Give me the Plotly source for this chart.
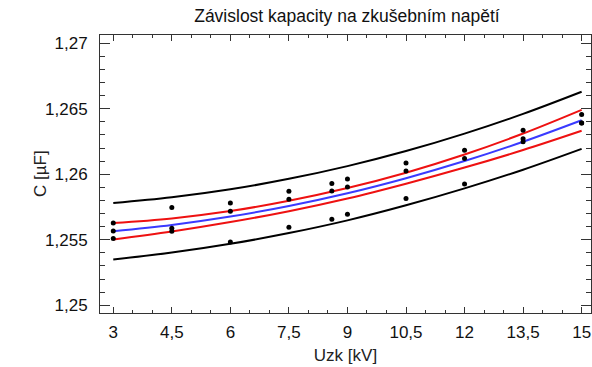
import plotly.graph_objects as go

# measured points
pts_x = [3, 3, 3, 4.5, 4.5, 4.5, 6, 6, 6, 7.5, 7.5, 7.5, 8.6, 8.6, 8.6,
         9, 9, 9, 10.5, 10.5, 10.5, 12, 12, 12, 13.5, 13.5, 13.5, 15, 15, 15]
pts_y = [1.25628, 1.25567, 1.25509, 1.25746, 1.25588, 1.25565,
         1.25781, 1.25718, 1.25483, 1.25870, 1.25809, 1.25595,
         1.25929, 1.25873, 1.25656, 1.25964, 1.25903, 1.25695,
         1.26086, 1.26025, 1.25815, 1.26183, 1.26120, 1.25926,
         1.26336, 1.26272, 1.26248, 1.26456, 1.26392, 1.26392]

# curves
curve_x = [3, 4.5, 6, 7.5, 9, 10.5, 12, 13.5, 15]
fit_y = [1.25565, 1.25613, 1.25677, 1.25758, 1.25855, 1.25970, 1.26101, 1.26248, 1.26412]
conf_up = [1.25628, 1.25663, 1.25719, 1.25798, 1.25895, 1.26012, 1.26151, 1.26311, 1.26492]
conf_lo = [1.25502, 1.25563, 1.25635, 1.25718, 1.25815, 1.25928, 1.26051, 1.26185, 1.26332]
pred_up = [1.25780, 1.25824, 1.25885, 1.25965, 1.26062, 1.26177, 1.26310, 1.26461, 1.26630]
pred_lo = [1.25350, 1.25402, 1.25469, 1.25551, 1.25648, 1.25763, 1.25892, 1.26035, 1.26194]

x_ticks = [3, 4.5, 6, 7.5, 9, 10.5, 12, 13.5, 15]
x_labels = ["3", "4,5", "6", "7,5", "9", "10,5", "12", "13,5", "15"]
y_ticks = [1.25, 1.255, 1.26, 1.265, 1.27]
y_labels = ["1,25", "1,255", "1,26", "1,265", "1,27"]

fig = go.Figure()
for yy, col in [(pred_up, "black"), (pred_lo, "black"),
                (conf_up, "#ee1111"), (conf_lo, "#ee1111"),
                (fit_y, "#3a3aff")]:
    fig.add_trace(go.Scatter(x=curve_x, y=yy, mode="lines",
                             line=dict(color=col, width=2, shape="spline"),
                             showlegend=False, hoverinfo="skip"))
fig.add_trace(go.Scatter(x=pts_x, y=pts_y, mode="markers",
                         marker=dict(color="black", size=5),
                         showlegend=False))

font = "Liberation Sans, Arial, sans-serif"
fig.update_layout(
    width=592, height=367,
    margin=dict(l=100, r=1, t=34.5, b=54.3, autoexpand=False),
    paper_bgcolor="white", plot_bgcolor="white",
    font=dict(family=font, size=17, color="#111111"),
    title=dict(text="Závislost kapacity na zkušebním napětí",
               x=0.586, xanchor="center", y=0.957, yanchor="middle",
               font=dict(size=17.5, color="#111111")),
    xaxis=dict(range=[2.66, 15.24], tickvals=x_ticks, ticktext=x_labels,
               ticks="inside", ticklen=6, tickcolor="#333333",
               minor=dict(ticks="inside", ticklen=3, dtick=0.5, tick0=3,
                          tickcolor="#333333"),
               showline=True, linecolor="#333333", linewidth=1,
               mirror="allticks", showgrid=False, zeroline=False,
               automargin=False, ticklabelstandoff=4,
               title=dict(text="Uzk [kV]", standoff=7,
                          font=dict(size=17, color="#222222"))),
    yaxis=dict(range=[1.24941, 1.27063], tickvals=y_ticks, ticktext=y_labels,
               ticks="inside", ticklen=10, tickcolor="#333333",
               minor=dict(ticks="inside", ticklen=5, dtick=0.001, tick0=1.25,
                          tickcolor="#333333"),
               showline=True, linecolor="#333333", linewidth=1,
               mirror="allticks", showgrid=False, zeroline=False,
               automargin=False, ticklabelstandoff=8),
    annotations=[dict(text="C [µF]", textangle=-90, xref="paper", yref="paper",
                      x=-60 / 491, y=0.5, xanchor="center", yanchor="middle",
                      showarrow=False, font=dict(size=17, color="#222222"))],
)
fig.write_html("out.html",
               config={"displayModeBar": False},
               post_script="document.body.style.margin='0px';"
                           "document.body.style.overflow='hidden';")
